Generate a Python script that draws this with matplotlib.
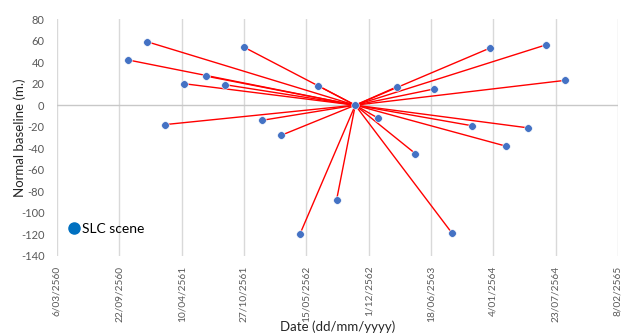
import matplotlib
matplotlib.use("Agg")
import matplotlib.pyplot as plt
import matplotlib.dates as mdates
from matplotlib.lines import Line2D
import numpy as np

plt.rcParams['font.family'] = ['Lato', 'DejaVu Sans']

# Scene acquisition dates and normal baselines (m.)
scene_dates = ["2017-10-20", "2017-12-19", "2018-02-16", "2018-04-16", "2018-06-27",
               "2018-08-28", "2018-10-26", "2018-12-25", "2019-02-23", "2019-04-24",
               "2019-06-22", "2019-08-20", "2019-12-31", "2020-02-29", "2020-04-29",
               "2020-06-27", "2020-08-25", "2020-10-26", "2020-12-24", "2021-02-13",
               "2021-04-24", "2021-06-22", "2021-08-21"]
baselines = [42, 59, -18, 20, 27, 19, 54, -14, -28, -120, 18, -88,
             -12, 17, -45, 15, -119, -19, 53, -38, -21, 56, 23]
master_date = "2019-10-19"
master_baseline = 0

tick_dates = ["2017-03-06", "2017-09-22", "2018-04-10", "2018-10-27", "2019-05-15",
              "2019-12-01", "2020-06-18", "2021-01-04", "2021-07-23", "2022-02-08"]
tick_labels = ["6/03/2560", "22/09/2560", "10/04/2561", "27/10/2561", "15/05/2562",
               "1/12/2562", "18/06/2563", "4/01/2564", "23/07/2564", "8/02/2565"]
y_ticks = [80, 60, 40, 20, 0, -20, -40, -60, -80, -100, -120, -140]

sd = mdates.datestr2num(scene_dates)
md = mdates.datestr2num(master_date)
td = mdates.datestr2num(tick_dates)

fig = plt.figure(figsize=(6.29, 3.34), dpi=100)
ax = fig.add_axes([57/629, 1-256/334, (618-57)/629, (256-19)/334])

grid_c = '#D9D9D9'
for t in td:
    ax.axvline(t, color=grid_c, lw=1.0, zorder=0)
ax.axhline(0, color='#C8C8C8', lw=1.0, zorder=0)

for x, y in zip(sd, baselines):
    ax.plot([md, x], [master_baseline, y], color='#FF0000', lw=1.0, zorder=2)

ax.plot(sd, baselines, 'o', color='#4472C4', ms=5.5, zorder=3, mec='white', mew=0.4)
ax.plot([md], [master_baseline], 'o', color='#4472C4', ms=5.5, zorder=3, mec='white', mew=0.4)

ax.set_xlim(td[0], td[-1])
ax.set_ylim(-140, 80)
ax.set_xticks(td)
ax.set_xticklabels(tick_labels, rotation=90, color='#595959', fontsize=7.3)
ax.set_yticks(y_ticks)
ax.set_yticklabels([str(v) for v in y_ticks], color='#595959', fontsize=8)
ax.tick_params(axis='both', length=0)
ax.tick_params(axis='y', pad=9)
ax.tick_params(axis='x', pad=7)
for s in ax.spines.values():
    s.set_visible(False)

ax.set_ylabel("Normal baseline (m.)", fontsize=9.5, color='#262626', va='center')
ax.yaxis.set_label_coords(-0.066, 0.5)
ax.set_xlabel("Date (dd/mm/yyyy)", fontsize=9.5, color='#262626', va='center')
ax.xaxis.set_label_coords(0.5, -0.3)

handle = Line2D([], [], marker='o', ls='', color='#0070C0', ms=8)
leg = ax.legend([handle], ["SLC scene"], loc='center left', bbox_to_anchor=(0.0, 0.115),
                frameon=False, fontsize=10, handlelength=1.0, handletextpad=0.1,
                borderaxespad=0.3)

fig.savefig("out.png", dpi=100)
